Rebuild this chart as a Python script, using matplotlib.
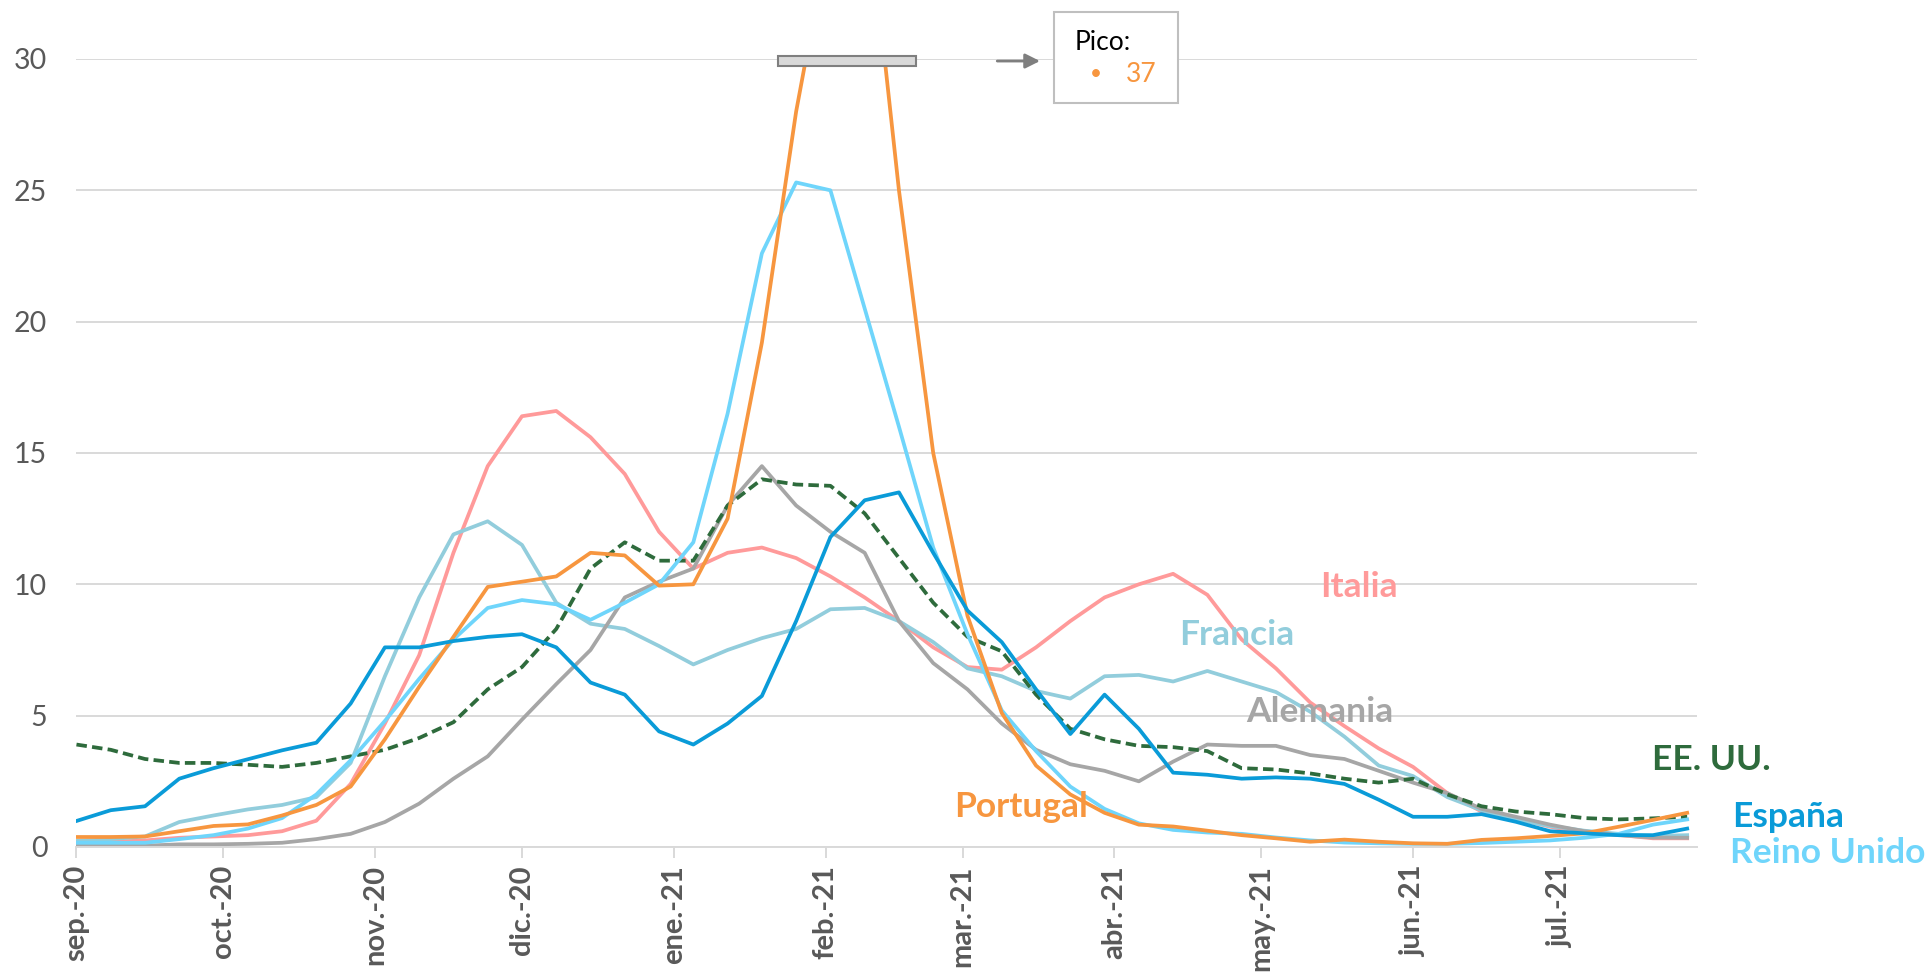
import matplotlib.pyplot as plt
import matplotlib.dates as mdates
import pandas as pd
from matplotlib.patches import Rectangle, FancyArrowPatch

plt.rcParams['font.family'] = ['Lato', 'DejaVu Sans']

# valores semanales (desde 1-sep-2020)
fechas = pd.date_range('2020-09-01', periods=48, freq='7D')

italia = [0.15, 0.2, 0.25, 0.35, 0.4, 0.45, 0.6, 1.0, 2.4, 4.7,
          7.3, 11.2, 14.5, 16.4, 16.6, 15.6, 14.2, 12.0, 10.6, 11.2,
          11.4, 11.0, 10.3, 9.5, 8.6, 7.6, 6.85, 6.75, 7.6, 8.6,
          9.5, 10.0, 10.4, 9.6, 7.9, 6.8, 5.5, 4.6, 3.75, 3.05,
          2.05, 1.35, 1.1, 0.77, 0.55, 0.46, 0.33, 0.33]
francia = [0.23, 0.3, 0.4, 0.95, 1.2, 1.43, 1.6, 1.9, 3.2, 6.5,
           9.5, 11.9, 12.4, 11.5, 9.3, 8.5, 8.3, 7.65, 6.95, 7.5,
           7.95, 8.3, 9.05, 9.1, 8.6, 7.8, 6.8, 6.5, 5.94, 5.65,
           6.5, 6.55, 6.3, 6.7, 6.3, 5.9, 5.15, 4.2, 3.1, 2.7,
           1.9, 1.4, 1.05, 0.8, 0.62, 0.5, 0.42, 0.45]
alemania = [0.04, 0.05, 0.05, 0.1, 0.1, 0.12, 0.16, 0.3, 0.5, 0.95,
            1.65, 2.6, 3.45, 4.85, 6.2, 7.5, 9.5, 10.1, 10.6, 13.0,
            14.5, 13.0, 12.0, 11.2, 8.6, 7.0, 6.0, 4.7, 3.7, 3.15,
            2.9, 2.5, 3.25, 3.9, 3.85, 3.85, 3.5, 3.35, 2.9, 2.45,
            2.05, 1.45, 1.15, 0.85, 0.6, 0.45, 0.36, 0.35]
eeuu = [3.9, 3.7, 3.35, 3.2, 3.2, 3.13, 3.05, 3.2, 3.45, 3.7,
        4.15, 4.75, 6.0, 6.85, 8.3, 10.6, 11.6, 10.9, 10.9, 13.0,
        14.0, 13.8, 13.75, 12.7, 11.0, 9.3, 8.0, 7.45, 5.8, 4.5,
        4.1, 3.85, 3.8, 3.65, 3.0, 2.95, 2.8, 2.6, 2.45, 2.6,
        2.0, 1.55, 1.35, 1.25, 1.1, 1.05, 1.09, 1.15]
reino_unido = [0.16, 0.16, 0.16, 0.3, 0.45, 0.7, 1.1, 2.0, 3.3, 4.8,
               6.4, 7.9, 9.1, 9.4, 9.24, 8.65, 9.3, 10.0, 11.6, 16.5,
               22.6, 25.3, 25.0, 20.5, 16.0, 11.4, 8.1, 5.2, 3.65, 2.3,
               1.45, 0.9, 0.65, 0.55, 0.5, 0.36, 0.25, 0.17, 0.14, 0.12,
               0.12, 0.15, 0.2, 0.25, 0.35, 0.5, 0.85, 1.05]
portugal = [0.38, 0.38, 0.4, 0.6, 0.8, 0.86, 1.2, 1.6, 2.3, 4.1,
            6.1, 8.0, 9.9, 10.1, 10.3, 11.2, 11.1, 9.95, 10.0, 12.5,
            19.2, 28.0, 35.0, 37.0, 25.0, 15.0, 8.8, 5.1, 3.1, 2.0,
            1.3, 0.85, 0.78, 0.62, 0.45, 0.33, 0.2, 0.28, 0.2, 0.14,
            0.12, 0.27, 0.33, 0.42, 0.52, 0.77, 1.03, 1.3]
espana = [0.99, 1.4, 1.55, 2.6, 3.0, 3.34, 3.68, 3.97, 5.46, 7.6,
          7.6, 7.84, 8.0, 8.1, 7.6, 6.26, 5.8, 4.4, 3.9, 4.7,
          5.75, 8.6, 11.8, 13.2, 13.5, 11.2, 9.0, 7.8, 6.0, 4.3,
          5.8, 4.5, 2.83, 2.75, 2.6, 2.65, 2.6, 2.4, 1.8, 1.15,
          1.15, 1.25, 0.96, 0.6, 0.52, 0.45, 0.45, 0.7]

meses = pd.date_range('2020-09-01', periods=11, freq='MS')
etiquetas = ['sep.-20', 'oct.-20', 'nov.-20', 'dic.-20', 'ene.-21', 'feb.-21',
             'mar.-21', 'abr.-21', 'may.-21', 'jun.-21', 'jul.-21']
pico_portugal = 37

inicio = pd.Timestamp('2020-09-01')
fin = pd.Timestamp('2021-07-29')

series = [
    ('Italia', italia, '#ff9a9a', '-', 262, 9.9),
    ('Francia', francia, '#92cddc', '-', 237, 8.07),
    ('Alemania', alemania, '#a6a6a6', '-', 254, 5.14),
    ('EE. UU.', eeuu, '#2e6b3c', (0, (2.8, 1.4)), 334, 3.3),
    ('Reino Unido', reino_unido, '#6fd5fb', '-', 357.6, -0.23),
    ('Portugal', portugal, '#f7963f', '-', 193, 1.52),
    ('España', espana, '#0a9bd8', '-', 349.7, 1.14),
]

fig = plt.figure(figsize=(19.31, 9.75), dpi=100)
ax = fig.add_axes([0.0396, 0.1313, 0.8392, 0.8082])

for nombre, vals, color, ls, dx, vy in series:
    ax.plot(fechas, vals, color=color, lw=2.7, ls=ls, solid_joinstyle='round')
    ax.text(inicio + pd.Timedelta(days=dx), vy, nombre, color=color,
            fontsize=25.5, fontweight='bold', ha='center', va='center',
            clip_on=False)

ax.set_xlim(inicio, fin)
ax.set_ylim(0, 30)
ax.set_yticks(range(0, 31, 5))
ax.yaxis.grid(True, color='#d9d9d9', lw=1.4)
ax.set_axisbelow(True)
for s in ['top', 'right', 'left']:
    ax.spines[s].set_visible(False)
ax.spines['bottom'].set_color('#d9d9d9')
ax.spines['bottom'].set_linewidth(1.4)

ax.set_xticks(meses)
ax.set_xticklabels(etiquetas, rotation=90, fontweight='bold', fontsize=21,
                   color='#595959', va='top', ha='center')
ax.tick_params(axis='x', length=8, width=1.4, color='#d9d9d9', pad=5)
ax.tick_params(axis='y', length=0, pad=21, labelsize=20.5, labelcolor='#595959')

# barra que recorta el pico de Portugal
x0 = mdates.date2num(inicio + pd.Timedelta(days=143.2))
x1 = mdates.date2num(inicio + pd.Timedelta(days=171.4))
ax.add_patch(Rectangle((x0, 29.74), x1 - x0, 0.38, facecolor='#d9d9d9',
                       edgecolor='#7f7f7f', lw=1.5, clip_on=False, zorder=5))

fig.patches.append(FancyArrowPatch((0.5150, 0.9374), (0.5400, 0.9374),
                                   transform=fig.transFigure, arrowstyle='-|>',
                                   mutation_scale=22, color='#7f7f7f', lw=2))
fig.patches.append(Rectangle((0.5458, 0.8944), 0.0642, 0.0933,
                             transform=fig.transFigure, facecolor='white',
                             edgecolor='#bfbfbf', lw=1.5))
fig.text(0.5567, 0.956, 'Pico:', fontsize=19, color='black', va='center')
fig.text(0.5676, 0.924, '\u2022', fontsize=15, color='#f7963f', va='center',
         ha='center')
fig.text(0.5832, 0.924, str(pico_portugal), fontsize=19, color='#f7963f',
         va='center')

fig.savefig('out.png', dpi=100, facecolor='white')
